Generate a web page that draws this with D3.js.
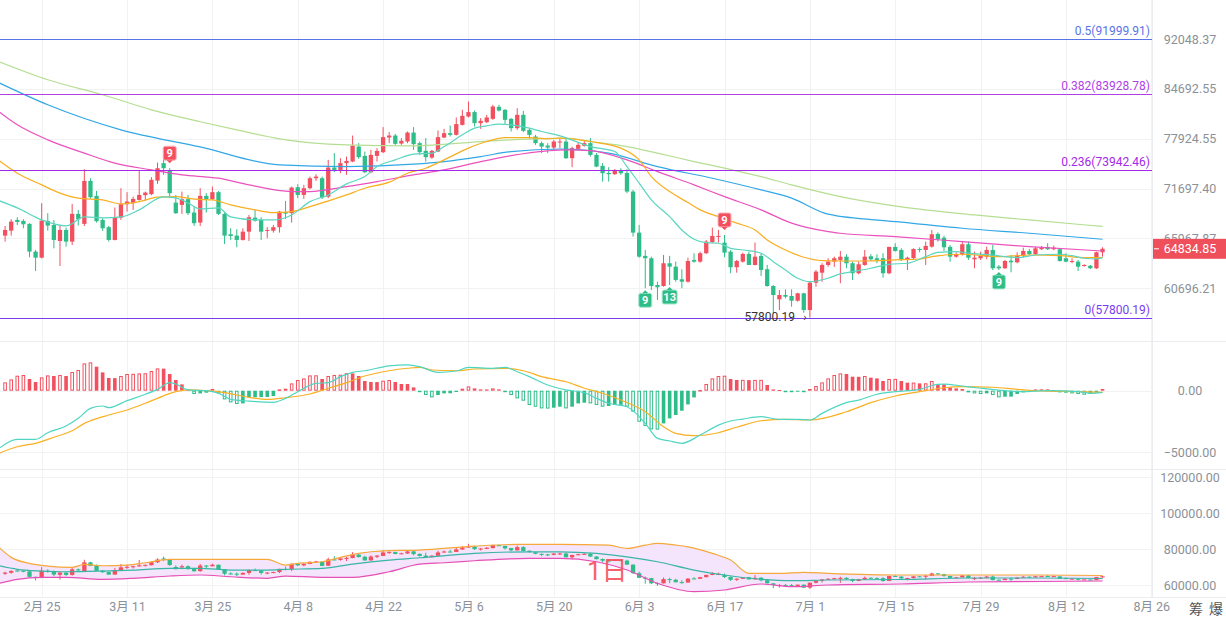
<!DOCTYPE html>
<html>
<head>
<meta charset="utf-8">
<script src="https://cdnjs.cloudflare.com/ajax/libs/d3/7.8.5/d3.min.js"></script>
<style>
  body { margin: 0; background: #fff; }
  svg { display: block; }
</style>
</head>
<body>
<div id="chart"></div>
<script>
// daily candles [open, high, low, close], first one is 2月19
var candles = [
[66280,67360,65620,66910],[66830,68120,66280,67850],[68040,68350,67470,67810],[67930,68120,67100,67550],
[67590,67670,63930,64530],[64530,64710,62480,63880],[63880,69970,63800,67960],[67930,68810,66830,67400],
[67470,68040,64890,65800],[65690,67470,63000,66910],[66910,67170,65070,65620],[65620,69890,65250,68730],
[68730,69190,67400,68120],[67590,74060,67360,72620],[72620,72950,70510,70670],[70830,71420,67740,67890],
[68040,68230,66800,67100],[67220,67360,65620,65800],[65800,69460,65750,68350],[68300,71740,68040,69850],
[69850,71270,68990,70160],[69970,70740,69190,70470],[70350,73970,70270,70940],[70910,71340,70240,71220],
[71030,73080,70910,72750],[72660,74880,72260,74180],[74810,75850,73360,74180],[73970,74180,70560,71150],
[70040,70940,68730,68810],[69770,71340,68730,70440],[70440,70940,68610,68810],[68880,69570,67360,67670],
[67740,71740,67360,70830],[70830,71150,68880,70440],[70440,71940,70350,71270],[71270,71420,68610,68730],
[68730,68880,65360,66280],[66430,67100,65800,66240],[66280,66990,65000,65800],[65800,67100,65730,66720],
[66720,68610,65690,68350],[68300,69190,67850,67960],[68040,68350,65800,66720],[66800,67220,65990,66910],
[66830,67470,66610,67220],[67220,69070,66610,68990],[68920,70240,68150,68760],[68810,71940,67740,71820],
[71860,72230,70560,70940],[70940,72140,70470,71740],[71740,73150,71620,72950],[72950,73440,72620,73150],
[72950,73150,70470,70630],[70740,75220,70560,74260],[74260,76070,73680,73970],[73970,75430,73560,74810],
[74810,75640,73360,75090],[75010,78340,74930,77040],[76910,77350,75350,75560],[75720,76270,73560,73680],
[73680,76490,73560,75850],[75720,76710,75010,76360],[76190,79450,76070,78130],[78080,78790,77350,78340],
[78340,78560,77130,77260],[77300,78000,77130,77650],[77560,78870,77350,78730],[78730,79450,76490,77220],
[77350,77560,75850,76190],[76360,78000,75010,75560],[75510,76490,75350,76360],[76270,79000,76190,78130],
[78080,79220,78000,78650],[78650,79660,78210,78430],[78430,80740,78340,79850],[79750,81780,79660,80960],
[80870,82920,80740,81470],[81470,81680,79530,79980],[79980,80650,79220,80290],[80110,81100,79980,80740],
[80560,82470,80420,82230],[82190,82470,81550,81680],[81780,81880,79750,80420],[80560,80650,78870,79310],
[79310,82000,79090,81100],[81100,81640,78790,78960],[79090,79310,77910,78430],[78210,78430,77130,77350],
[77350,77560,76070,76910],[77040,77350,76070,76780],[76780,77780,76490,77560],[77480,78000,76710,77560],
[77560,78000,75350,75430],[75430,76910,74310,76710],[76620,77430,76490,77130],[77000,77690,76910,77350],
[77350,78000,75640,75850],[75850,76070,74310,74380],[74470,74810,72540,73560],[73600,74310,72540,73440],
[73440,74060,73360,73970],[73850,74180,73360,73560],[73600,74060,71150,71340],[71340,71540,66170,66610],
[66610,67470,63880,63990],[64070,64710,60700,63820],[63820,63990,60520,60930],[61030,61370,59520,60800],
[60930,64170,60860,63290],[63290,64070,61030,62930],[62930,63460,61370,61550],[61620,62660,60700,61370],
[61370,63880,61270,63530],[63640,64360,63350,63460],[63460,64530,63350,64360],[64360,65800,64280,65620],
[65580,67170,65440,66240],[66170,66910,65510,66240],[65510,66350,63930,64420],[64530,64710,62240,62870],
[62870,63640,62300,63530],[63460,64420,63350,64280],[64280,64530,63100,63110],[63110,65520,63050,63990],
[64070,64360,61960,62580],[62660,63110,60860,60930],[60930,61030,58210,60020],[59590,60520,58530,60020],
[60020,60590,59690,59850],[59920,60590,58860,59450],[59450,60250,59350,60190],[60190,60250,58270,58530],
[58530,61370,57800.19,61270],[61270,62580,60860,62410],[62300,63290,61370,63110],[63110,63820,62930,63460],
[63480,63990,62900,63820],[63640,64600,61210,63990],[63990,64250,62760,63290],[63290,63460,61550,62240],
[62240,63460,62130,63180],[63110,64710,63030,63990],[64030,64250,63530,63710],[63820,64250,63290,63640],
[63820,64360,61790,62240],[62240,65070,62130,65040],[65040,65440,64530,64600],[64710,64890,63530,63640],
[63640,63990,62580,63880],[63820,64890,63710,64820],[64820,65000,64460,64710],[64710,65620,63110,65150],
[65070,66910,64960,66430],[66470,66650,65620,65880],[66050,66280,64600,65000],[65040,65250,63460,63990],
[63990,64460,63880,64250],[64250,65620,64100,65330],[65330,65620,63640,63880],[63710,64530,62760,63880],
[63820,64530,63640,64070],[63990,65070,63710,64710],[64710,65250,62580,62760],[62930,63110,62580,62760],
[62760,63640,62690,63530],[63560,64170,62340,63390],[63390,64460,63290,64100],[64100,64960,63880,64600],
[64600,64820,64170,64250],[64250,65040,64170,64890],[64790,65150,64710,64960],[65040,65440,64710,64790],
[64790,65180,64680,64960],[64790,64890,63460,63530],[63820,64360,63390,63460],[63430,63820,63290,63530],
[63460,63640,62480,62930],[63000,63180,62930,63110],[63030,63110,62690,62760],[62760,64530,62690,64460],
[64460,65000,63990,64834.85]
];

// moving averages: [day index, price]
var maTeal = [[-1,70270],[2,69420],[6,68040],[10,67360],[13,68380],[16,68270],[19,68380],[22,69190],[26,70710],[28,70590],[30,70000],[32,69300],[35,69420],[37,68380],[41,68040],[44,68040],[47,68610],[50,70150],[53,70940],[56,72260],[59,73150],[61,74380],[64,75220],[67,75940],[70,76070],[72,76910],[75,78430],[77,79310],[79,79620],[81,79850],[83,79750],[86,79310],[88,78870],[91,78300],[96,76910],[100,76270],[102,74380],[104,72350],[106,70350],[109,68420],[111,66910],[113,65880],[115,65510],[117,65440],[119,64890],[122,64640],[124,64360],[126,63460],[128,62580],[130,61720],[132,61370],[135,61720],[137,62170],[139,62410],[142,62760],[145,63180],[148,63290],[151,63990],[153,64460],[156,64530],[158,64360],[162,64170],[164,63990],[166,63880],[169,64170],[173,64250],[175,64100],[177,63820],[179,63750],[180,63880]];
var maOrange = [[-1,75130],[2,73560],[6,72140],[9,71150],[12,70560],[16,70350],[19,69890],[22,70160],[25,70670],[28,70740],[31,70440],[34,70350],[37,69770],[41,69190],[44,68880],[47,68990],[50,69570],[56,70940],[59,71740],[63,72470],[66,73560],[69,74180],[72,75220],[76,76710],[79,77560],[82,78080],[86,78080],[89,77910],[91,78000],[96,77560],[101,76710],[104,75220],[106,73150],[109,71340],[112,70040],[114,69190],[117,68420],[120,67670],[123,66910],[125,65800],[128,64710],[131,63930],[134,63570],[137,63530],[141,63530],[146,63640],[150,63740],[152,63990],[157,64250],[163,63990],[168,64170],[173,64100],[177,63880],[180,63880]];
var maPink = [[-1,81510],[2,79750],[7,77780],[13,76070],[18,74810],[24,73970],[29,73360],[35,72950],[40,72140],[47,71340],[50,71340],[56,71940],[61,72540],[67,73360],[72,73970],[78,75010],[83,75760],[89,76360],[92,76490],[96,76400],[102,75220],[107,73760],[113,72140],[118,70740],[124,69190],[129,67670],[135,66720],[137,66540],[146,66170],[157,65620],[168,65070],[180,64600]];
var maBlue = [[-1,85560],[7,82470],[19,79090],[32,76870],[45,74590],[56,74380],[67,74680],[72,75010],[78,75640],[83,76270],[91,76600],[99,76070],[107,74380],[116,72950],[124,71540],[129,70560],[135,68700],[146,67850],[157,67100],[168,66540],[180,65880]];
var maGreen = [[-1,88620],[7,85990],[16,83860],[24,81780],[32,80170],[38,79090],[45,77910],[56,77130],[67,77000],[78,77560],[83,77780],[92,78000],[96,77560],[102,76910],[107,76070],[113,75010],[118,74180],[124,73150],[129,72140],[137,70740],[147,69540],[159,68610],[168,68040],[180,67300]];

// MACD histogram, one per candle
var macdHist = [674,918,1218,1275,950,706,1080,1242,1194,1275,1194,1518,1681,2217,2298,1949,1486,1031,1020,1194,
1356,1370,1405,1420,1600,1811,1790,1356,869,512,106,-268,-219,-162,138,-219,-706,-950,-1080,-1031,
-544,-530,-520,-510,-430,106,162,593,869,999,1242,1250,950,1194,1275,1300,1420,1405,1194,788,
706,700,812,869,706,544,540,268,-81,-349,-544,-349,-219,-210,-106,162,349,187,106,100,
187,106,-81,-349,-625,-812,-1161,-1299,-1437,-1450,-1380,-1299,-1437,-1299,-1031,-974,-1031,-1161,-1299,-1242,
-1161,-1150,-1299,-1705,-2517,-2866,-3142,-3160,-2655,-2249,-1973,-1624,-1112,-544,57,544,999,1194,1218,950,
869,880,860,875,880,463,106,57,-81,-106,-65,-106,138,382,674,999,1275,1405,1356,1137,
1130,1194,1056,999,788,950,960,788,650,660,593,600,788,544,512,268,187,138,-138,-219,
-268,-219,-349,-544,-487,-480,-268,-138,-81,106,110,108,57,-138,-162,-219,-268,-325,-268,-138,138];
var macdDif = [[-1,-4680],[2,-3950],[5,-3950],[7,-3410],[10,-2870],[12,-2240],[14,-1430],[16,-1240],[17,-1380],[20,-810],[23,-290],[25,110],[27,650],[28,540],[30,60],[33,0],[35,-210],[37,-700],[40,-840],[44,-940],[46,-620],[48,-80],[51,600],[53,650],[55,1140],[57,1490],[59,1620],[63,2010],[66,2090],[68,1950],[71,1490],[74,1600],[76,1900],[80,1820],[82,1900],[84,1540],[86,1140],[89,460],[92,60],[95,-160],[97,-620],[99,-1020],[102,-1300],[105,-2650],[107,-3870],[109,-4080],[111,-4270],[114,-3600],[117,-2790],[119,-2460],[121,-2300],[124,-2110],[127,-2320],[130,-2320],[132,-2380],[134,-1840],[138,-970],[140,-760],[143,-290],[146,-80],[150,110],[153,520],[154,540],[157,380],[160,200],[164,0],[167,-80],[171,0],[176,-80],[178,-210],[180,-130]];
var macdDea = [[-1,-5080],[2,-4550],[5,-4270],[8,-3780],[11,-3250],[13,-2650],[17,-1970],[20,-1570],[23,-1020],[25,-620],[28,-80],[30,60],[33,0],[36,-160],[40,-540],[43,-700],[46,-570],[50,-270],[53,200],[56,650],[59,1190],[63,1620],[66,1820],[68,1900],[70,1680],[74,1620],[77,1760],[82,1820],[85,1620],[88,1140],[92,730],[95,200],[98,-210],[101,-760],[105,-1710],[108,-2920],[110,-3460],[113,-3650],[117,-3410],[120,-2970],[124,-2440],[128,-2320],[132,-2380],[138,-1710],[142,-970],[146,-430],[151,0],[154,240],[157,330],[162,280],[166,110],[170,-20],[176,-80],[180,-130]];

// BOLL bands
var bollUp = [[-1,80950],[1,75390],[4,72060],[7,70560],[11,69830],[13,71500],[16,70720],[20,71110],[23,72390],[27,74280],[32,74280],[43,74280],[46,71110],[48,72060],[52,72950],[55,75390],[58,77610],[62,79060],[68,79450],[77,81670],[84,82610],[91,82610],[99,82220],[102,80390],[105,82220],[107,83170],[110,82220],[112,81280],[116,77610],[119,73890],[122,66500],[127,66500],[131,67060],[135,66500],[147,65560],[158,65560],[170,65560],[180,65280]];
var bollMid = [[-1,70720],[2,68720],[6,67780],[10,67390],[16,67780],[21,68330],[27,69280],[32,69280],[37,68330],[43,68330],[46,68720],[52,69280],[57,71670],[63,73890],[68,75170],[77,77610],[86,78500],[91,78500],[97,77610],[102,75720],[107,72950],[113,68330],[118,65560],[124,63170],[129,62390],[135,62780],[147,63060],[158,63890],[170,63890],[180,63610]];
var bollLow = [[-1,60950],[2,63170],[6,64280],[10,64280],[16,63170],[21,63720],[27,65000],[32,65560],[37,64610],[43,63720],[46,65000],[52,64280],[57,64280],[63,67390],[68,71670],[72,72390],[77,73500],[86,74830],[91,74830],[97,72950],[102,68330],[107,60950],[113,56280],[118,57220],[124,60560],[129,59060],[135,60000],[147,60560],[158,61670],[170,61950],[180,62220]];

var priceTicks = [92048.37, 84692.55, 77924.55, 71697.40, 65967.87, 60696.21];
var macdTicks = [0, -5000];
var bollTicks = [120000, 100000, 80000, 60000];
var dateTicks = ["2025-02-25","2025-03-11","2025-03-25","2025-04-08","2025-04-22","2025-05-06","2025-05-20",
  "2025-06-03","2025-06-17","2025-07-01","2025-07-15","2025-07-29","2025-08-12","2025-08-26"];

var fibRatio = ["0.5", "0.382", "0.236", "0"];
var fibValue = [91999.91, 83928.78, 73942.46, 57800.19];
var fibColor = ["#5a74e8", "#b03fe6", "#a42ae8", "#7a3cf2"];

var tdIdx = [27, 118, 105, 109, 163];
var tdText = ["9", "9", "9", "13", "9"];
var tdSide = ["high", "high", "low", "low", "low"];

var lowIdx = 132;

var W = 1226, H = 624, plotR = 1152;
var UP = "#f2505e", DOWN = "#2ebd88";
var FONT = "Roboto, 'Noto Sans CJK SC', sans-serif";
var AXIS = "#8b9198";

var day0 = Date.UTC(2025, 1, 19);
function dayAt(i) { return new Date(day0 + i * 864e5); }

var x = d3.scaleUtc().domain([dayAt(0), dayAt(188)]).range([5.1, 1151.3]);
var yMain = d3.scaleLog().domain([60696.21, 92048.37]).range([288.3, 39]);
var yMacd = d3.scaleLinear().domain([0, -5000]).range([390.7, 452.3]);
var yBoll = d3.scaleLinear().domain([60000, 120000]).range([585, 477.3]);

var svg = d3.select("#chart").append("svg").attr("width", W).attr("height", H)
  .attr("font-family", FONT);
var defs = svg.append("defs");
function clip(id, y0, y1) {
  defs.append("clipPath").attr("id", id).append("rect")
    .attr("x", 0).attr("y", y0).attr("width", plotR).attr("height", y1 - y0);
}
clip("cMain", 0, 341); clip("cMacd", 341, 469); clip("cBoll", 469, 597);

/* grid */
var grid = svg.append("g").attr("stroke", "#f1f2f4").attr("stroke-width", 1);
var tickDates = dateTicks.map(function(s) { return new Date(s); });
tickDates.forEach(function(d) {
  var xx = Math.round(x(d)) + 0.5;
  grid.append("line").attr("x1", xx).attr("x2", xx).attr("y1", 0).attr("y2", 597);
});
function hline(g, y, x1, x2) {
  var yy = Math.round(y) + 0.5;
  g.append("line").attr("x1", x1).attr("x2", x2).attr("y1", yy).attr("y2", yy);
}
priceTicks.forEach(function(v) { hline(grid, yMain(v), 0, plotR); });
macdTicks.forEach(function(v) { hline(grid, yMacd(v), 0, plotR); });
bollTicks.forEach(function(v) { hline(grid, yBoll(v), 0, plotR); });

var sep = svg.append("g").attr("stroke", "#eaecef").attr("stroke-width", 1);
hline(sep, 341, 0, W); hline(sep, 469, 0, W); hline(sep, 597, 0, W);
sep.append("line").attr("x1", plotR + 0.5).attr("x2", plotR + 0.5).attr("y1", 0).attr("y2", 597);

/* candles */
var bw = 4.3;
function drawCandles(g, ys) {
  var c = g.selectAll("g.k").data(candles).enter().append("g").attr("class", "k")
    .attr("fill", function(d) { return d[3] >= d[0] ? UP : DOWN; })
    .attr("stroke", function(d) { return d[3] >= d[0] ? UP : DOWN; });
  c.append("line")
    .attr("x1", function(d, i) { return x(dayAt(i)); })
    .attr("x2", function(d, i) { return x(dayAt(i)); })
    .attr("y1", function(d) { return ys(d[1]); })
    .attr("y2", function(d) { return ys(d[2]); })
    .attr("stroke-width", 1);
  c.append("rect")
    .attr("stroke", "none")
    .attr("x", function(d, i) { return x(dayAt(i)) - bw / 2; })
    .attr("width", bw)
    .attr("y", function(d) { return Math.min(ys(d[0]), ys(d[3])); })
    .attr("height", function(d) { return Math.max(1, Math.abs(ys(d[0]) - ys(d[3]))); });
}

var main = svg.append("g").attr("clip-path", "url(#cMain)");
drawCandles(main, yMain);

var lineMain = d3.line().x(function(d) { return x(dayAt(d[0])); })
  .y(function(d) { return yMain(d[1]); }).curve(d3.curveMonotoneX);
[[maGreen, "#b6de93"], [maBlue, "#32a7e6"], [maPink, "#ea52bd"], [maOrange, "#f9ae1f"], [maTeal, "#5ad6c1"]]
  .forEach(function(s) {
    main.append("path").attr("d", lineMain(s[0])).attr("fill", "none")
      .attr("stroke", s[1]).attr("stroke-width", 1.2);
  });

/* fibonacci levels */
fibValue.forEach(function(v, i) {
  var yy = Math.round(yMain(v)) + 0.5;
  main.append("line").attr("x1", 0).attr("x2", plotR).attr("y1", yy).attr("y2", yy)
    .attr("stroke", fibColor[i]).attr("stroke-width", 1);
  svg.append("text").attr("x", 1150).attr("y", yy - 5).attr("text-anchor", "end")
    .attr("font-size", 12).attr("fill", fibColor[i])
    .text(fibRatio[i] + "(" + d3.format(".2f")(v) + ")");
});

/* TD markers */
tdIdx.forEach(function(ci, k) {
  var d = candles[ci], cx = x(dayAt(ci));
  var w = tdText[k].length > 1 ? 15 : 13, h = 14;
  var isHigh = tdSide[k] === "high";
  var col = isHigh ? UP : DOWN;
  var g = svg.append("g");
  var top = isHigh ? yMain(d[1]) - 8 - h : yMain(d[2]) + 5;
  g.append("rect").attr("x", cx - w / 2).attr("y", top).attr("width", w).attr("height", h)
    .attr("rx", 2).attr("fill", col).attr("stroke", isHigh ? "#f9b5bb" : "#a6e6cc").attr("stroke-width", 1);
  var tip = isHigh
    ? [[cx - 3, top + h], [cx + 3, top + h], [cx, top + h + 3]]
    : [[cx - 3, top], [cx + 3, top], [cx, top - 3]];
  g.append("path").attr("d", d3.line()(tip) + "Z").attr("fill", col);
  g.append("text").attr("x", cx).attr("y", top + h / 2).attr("dy", "0.36em")
    .attr("text-anchor", "middle").attr("font-size", 11).attr("font-weight", "bold")
    .attr("fill", "#fff").text(tdText[k]);
});

/* lowest price tag */
var lowC = candles[lowIdx], lowX = x(dayAt(lowIdx)), lowY = yMain(lowC[2]);
svg.append("text").attr("x", lowX - 15).attr("y", lowY + 3.5).attr("text-anchor", "end")
  .attr("font-size", 12).attr("fill", "#333").text(d3.format(".2f")(lowC[2]));
svg.append("text").attr("x", lowX - 5).attr("y", lowY + 3.5).attr("text-anchor", "middle")
  .attr("font-size", 11).attr("fill", "#333").text("›");

/* MACD */
var macd = svg.append("g").attr("clip-path", "url(#cMacd)");
macdHist.forEach(function(v, i) {
  var prev = i > 0 ? macdHist[i - 1] : 0;
  var hollow = v >= 0 ? v > prev : v < prev;
  var col = v >= 0 ? UP : DOWN;
  var cx = x(dayAt(i)), y0 = yMacd(Math.max(v, 0)), y1 = yMacd(Math.min(v, 0));
  var r = macd.append("rect").attr("x", cx - 1.8).attr("width", 3.6)
    .attr("y", y0).attr("height", Math.max(1, y1 - y0));
  if (hollow) {
    r.attr("x", cx - 1.3).attr("width", 2.6).attr("y", y0 + 0.5)
      .attr("height", Math.max(0.5, y1 - y0 - 1))
      .attr("fill", "#fff").attr("stroke", col).attr("stroke-width", 1);
  } else {
    r.attr("fill", col);
  }
});
var lineMacd = d3.line().x(function(d) { return x(dayAt(d[0])); })
  .y(function(d) { return yMacd(d[1]); }).curve(d3.curveMonotoneX);
macd.append("path").attr("d", lineMacd(macdDea)).attr("fill", "none").attr("stroke", "#f9b022").attr("stroke-width", 1.2);
macd.append("path").attr("d", lineMacd(macdDif)).attr("fill", "none").attr("stroke", "#4fd6c2").attr("stroke-width", 1.2);

/* BOLL pane */
var boll = svg.append("g").attr("clip-path", "url(#cBoll)");
var lineBoll = d3.line().x(function(d) { return x(dayAt(d[0])); })
  .y(function(d) { return yBoll(d[1]); }).curve(d3.curveMonotoneX);
var backLow = bollLow.slice().reverse();
var lineBack = d3.line().x(function(d) { return x(dayAt(d[0])); })
  .y(function(d) { return yBoll(d[1]); }).curve(d3.curveMonotoneX);
boll.append("path")
  .attr("d", lineBoll(bollUp) + "L" + lineBack(backLow).slice(1) + "Z")
  .attr("fill", "#f4e4fc").attr("stroke", "none");
drawCandles(boll, yBoll);
boll.append("path").attr("d", lineBoll(bollUp)).attr("fill", "none").attr("stroke", "#f6a83a").attr("stroke-width", 1.2);
boll.append("path").attr("d", lineBoll(bollMid)).attr("fill", "none").attr("stroke", "#38b5a6").attr("stroke-width", 1.2);
boll.append("path").attr("d", lineBoll(bollLow)).attr("fill", "none").attr("stroke", "#e64fb5").attr("stroke-width", 1.2);

/* axes */
function rightAxis(scale, ticks) {
  var g = svg.append("g").attr("transform", "translate(" + plotR + ",0)")
    .call(d3.axisRight(scale).tickValues(ticks).tickFormat(d3.format(".2f")).tickSize(0));
  g.select(".domain").remove();
  g.attr("font-family", FONT).attr("font-size", 12.5);
  g.selectAll("text").attr("x", 38).attr("text-anchor", "middle").attr("fill", AXIS);
  return g;
}
rightAxis(yMain, priceTicks);
rightAxis(yMacd, macdTicks);
rightAxis(yBoll, bollTicks);

var xa = svg.append("g").attr("transform", "translate(0,597)")
  .call(d3.axisBottom(x).tickValues(tickDates).tickSize(0).tickPadding(5)
    .tickFormat(function(d) { return (d.getUTCMonth() + 1) + "月 " + d.getUTCDate(); }));
xa.select(".domain").remove();
xa.attr("font-family", FONT).attr("font-size", 12.5);
xa.selectAll("text").attr("fill", AXIS);

/* last price tag */
var last = candles[candles.length - 1][3];
var ly = yMain(last);
svg.append("rect").attr("x", plotR + 1).attr("y", ly - 10).attr("width", W - plotR - 1).attr("height", 20)
  .attr("fill", "#ef4f5b");
svg.append("line").attr("x1", plotR + 2).attr("x2", plotR + 7).attr("y1", ly).attr("y2", ly)
  .attr("stroke", "#fff").attr("stroke-width", 1);
svg.append("text").attr("x", 1190).attr("y", ly).attr("dy", "0.35em").attr("text-anchor", "middle")
  .attr("font-size", 12.5).attr("fill", "#fff").text(d3.format(".2f")(last));

/* watermark and corner labels */
svg.append("text").attr("x", 587).attr("y", 580).attr("font-size", 26)
  .attr("fill", "#f4525c").attr("opacity", 0.9).text("1日");
svg.append("text").attr("x", 1196).attr("y", 614).attr("text-anchor", "middle")
  .attr("font-size", 14).attr("fill", "#555").text("筹");
svg.append("text").attr("x", 1216).attr("y", 614).attr("text-anchor", "middle")
  .attr("font-size", 14).attr("fill", "#555").text("爆");
</script>
</body>
</html>
